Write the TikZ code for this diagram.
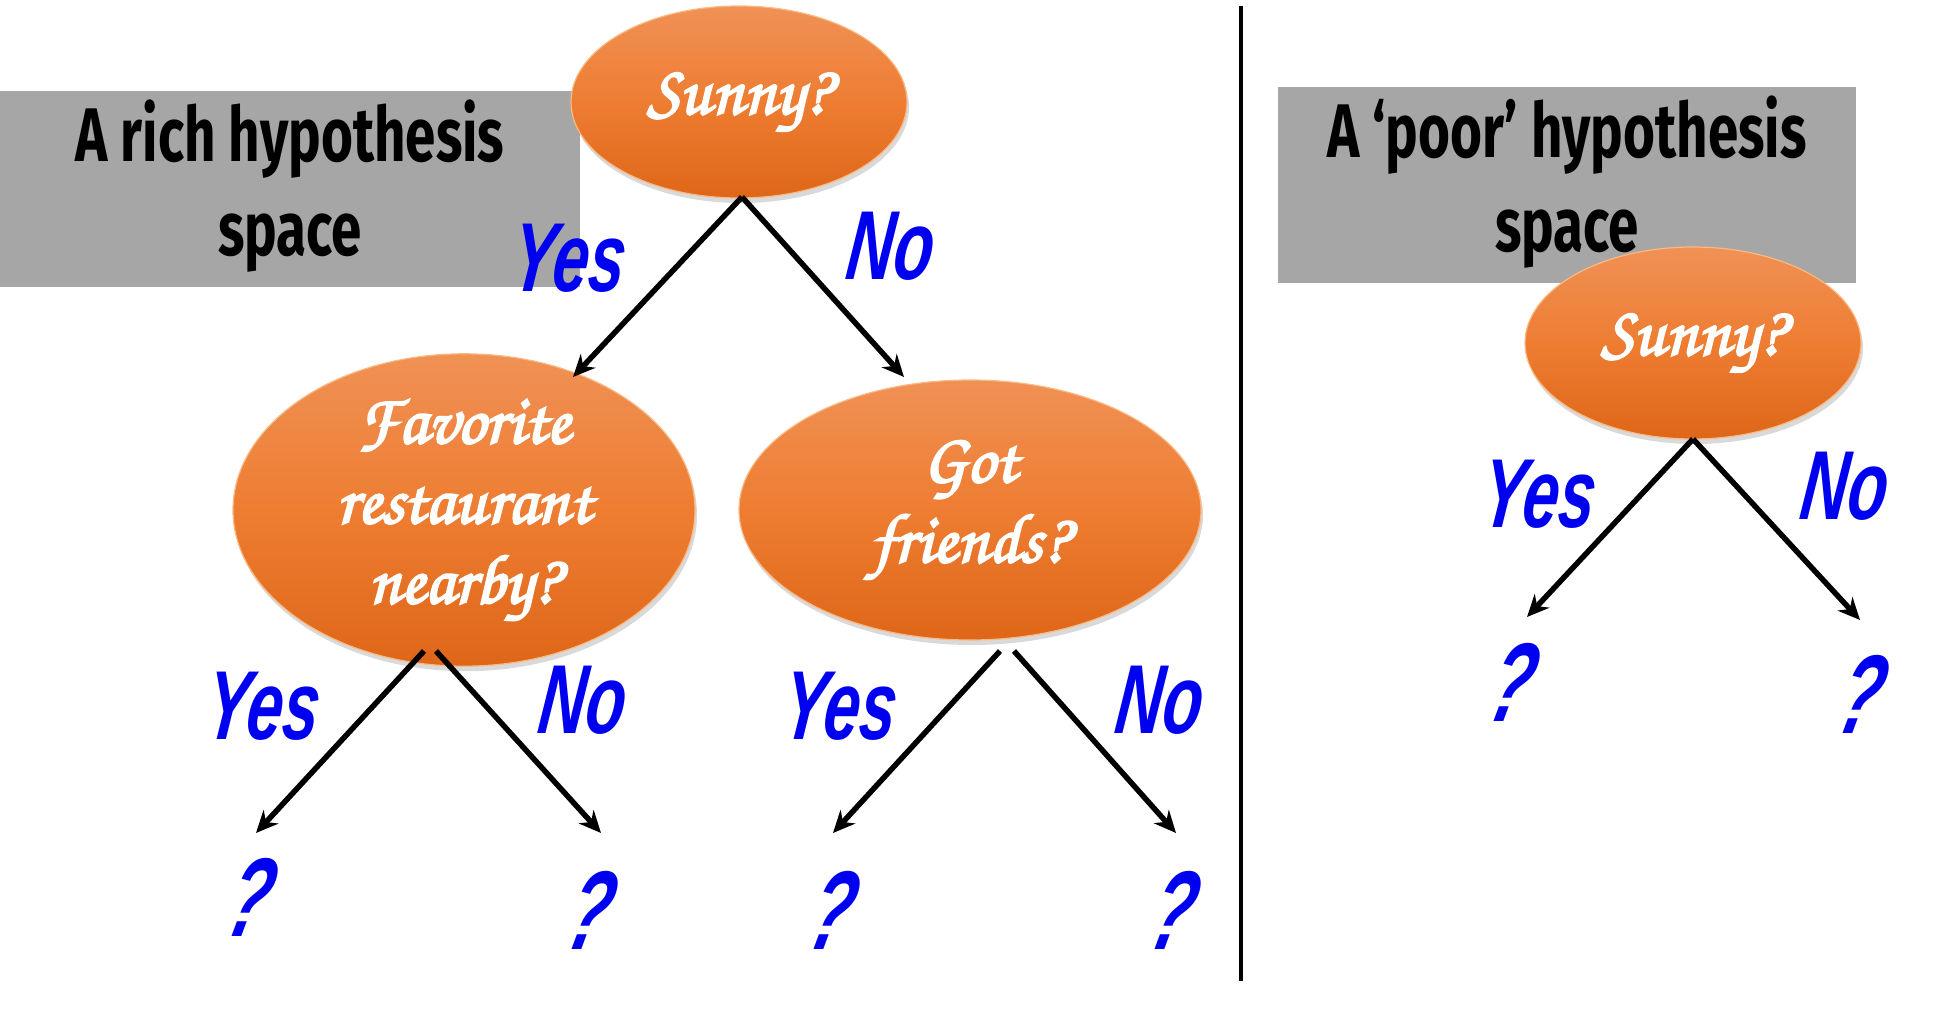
\documentclass[tikz,border=0pt]{standalone}
\usepackage{fontspec}
\usetikzlibrary{shapes.geometric,shadows,arrows.meta}
\newfontfamily\handf{Fira Sans}[FakeStretch=0.72]
\newfontfamily\scriptf{texgyrechorus-mediumitalic.otf}[FakeBold=3]
\newfontfamily\yesf{Liberation Sans}[FakeStretch=0.66,FakeSlant=0.12]
\newfontfamily\qmf{Liberation Sans}[FakeStretch=0.62,FakeSlant=0.25]
\definecolor{boxgray}{RGB}{166,166,166}
\definecolor{ortop}{RGB}{240,145,85}
\definecolor{ormid}{RGB}{238,125,50}
\definecolor{orbot}{RGB}{222,102,24}
\definecolor{orrim}{RGB}{250,185,130}
\definecolor{lblue}{RGB}{0,0,240}
\tikzset{
  qnode/.style={ellipse, draw=orrim, line width=1.2pt, top color=ortop, bottom color=orbot, middle color=ormid,
    drop shadow={opacity=0.3, shadow xshift=2pt, shadow yshift=-5pt},
    inner sep=0pt, text=white, align=center, font=\scriptf\fontsize{70}{80}\selectfont},
  hbox/.style={fill=boxgray, inner sep=0pt, anchor=north west},
  htext/.style={font=\handf\bfseries\fontsize{76}{94}\selectfont, align=center, text=black},
  lab/.style={font=\yesf\bfseries\itshape\fontsize{98}{90}\selectfont, text=lblue},
  qm/.style={font=\qmf\bfseries\itshape\fontsize{112}{90}\selectfont, text=lblue},
  arr/.style={line width=5.5pt, -{Stealth[length=22pt,width=20pt]}},
}
\begin{document}
\begin{tikzpicture}[x=1pt,y=-1pt]
\useasboundingbox (0,0) rectangle (1955,1035);
% left box
\node[hbox, minimum width=580pt, minimum height=196pt] (lbox) at (0,91) {};
\node[htext] (ltext) at (290,186) {A rich hypothesis\\space};
% right box
\node[hbox, minimum width=578pt, minimum height=196pt] (rbox) at (1278,87) {};
\node[htext] (rtext) at (1567,182) {A ‘poor’ hypothesis\\space};
% divider
\coordinate (vtop) at (1241,6);
\coordinate (vbot) at (1241,981);
\draw[line width=4.5pt] (vtop) -- (vbot);
% left tree
\node[qnode, minimum width=336pt, minimum height=192pt] (sun) at (739,102) {Sunny?};
\node[qnode, minimum width=462pt, minimum height=260pt] (fav) at (464,510) {Favorite\\restaurant\\nearby?};
\node[qnode, minimum width=462pt, minimum height=260pt] (got) at (970,510) {Got\\friends?};
\coordinate (s0) at (742,197);
\coordinate (sa) at (573,377);
\coordinate (sb) at (904,377);
\draw[arr] (s0) -- (sa);
\draw[arr] (s0) -- (sb);
\node[lab] (y1) at (566,258) {Yes};
\node[lab] (n1) at (888,246) {No};
\coordinate (f0) at (424,651);
\coordinate (f1) at (436,651);
\coordinate (fa) at (256,833);
\coordinate (fb) at (601,833);
\draw[arr] (f0) -- (fa);
\draw[arr] (f1) -- (fb);
\coordinate (g0) at (1000,651);
\coordinate (g1) at (1014,651);
\coordinate (ga) at (833,833);
\coordinate (gb) at (1176,833);
\draw[arr] (g0) -- (ga);
\draw[arr] (g1) -- (gb);
\node[lab] (y2) at (260,706) {Yes};
\node[lab] (n2) at (580,700) {No};
\node[lab] (y3) at (837,706) {Yes};
\node[lab] (n3) at (1157,700) {No};
\node[qm] (q1) at (243,897) {?};
\node[qm] (q2) at (583,910) {?};
\node[qm] (q3) at (825,910) {?};
\node[qm] (q4) at (1166,910) {?};
% right tree
\node[qnode, minimum width=336pt, minimum height=192pt] (rsun) at (1693,343) {Sunny?};
\coordinate (r0) at (1693,439);
\coordinate (ra) at (1527,617);
\coordinate (rb) at (1860,620);
\draw[arr] (r0) -- (ra);
\draw[arr] (r0) -- (rb);
\node[lab] (y4) at (1536,494) {Yes};
\node[lab] (n4) at (1842,486) {No};
\node[qm] (q5) at (1505,682) {?};
\node[qm] (q6) at (1854,694) {?};
\end{tikzpicture}
\end{document}
